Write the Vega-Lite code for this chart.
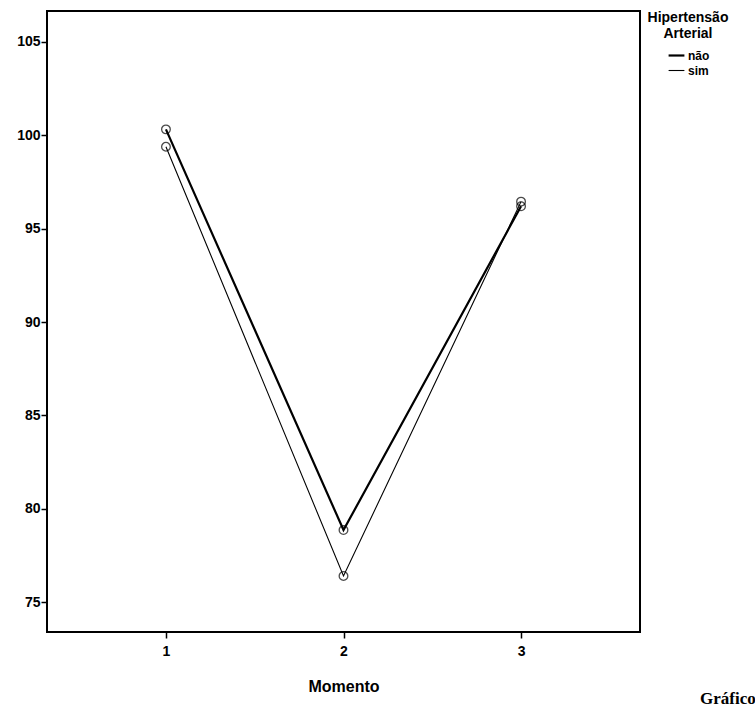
{
  "$schema": "https://vega.github.io/schema/vega-lite/v6.json",
  "width": 593,
  "height": 621,
  "autosize": {"type": "none"},
  "padding": {"left": 47, "top": 11, "right": 115, "bottom": 72},
  "background": "white",
  "title": {
    "text": "Gráfico",
    "orient": "bottom",
    "anchor": "end",
    "frame": "group",
    "align": "left",
    "baseline": "bottom",
    "dx": 60,
    "offset": 14,
    "font": "Liberation Serif",
    "fontSize": 17,
    "fontWeight": "bold",
    "color": "black"
  },
  "config": {
    "view": {"stroke": "black", "strokeWidth": 2},
    "axis": {
      "domain": false,
      "grid": false,
      "tickColor": "black",
      "tickSize": 6,
      "tickWidth": 1.5,
      "labelFont": "Liberation Sans",
      "labelFontSize": 14,
      "labelFontWeight": "bold",
      "labelColor": "black",
      "titleFont": "Liberation Sans",
      "titleFontSize": 16,
      "titleFontWeight": "bold",
      "titleColor": "black"
    },
    "legend": {
      "titleFont": "Liberation Sans",
      "titleFontSize": 14,
      "titleFontWeight": "bold",
      "titleColor": "black",
      "labelFont": "Liberation Sans",
      "labelFontSize": 12,
      "labelFontWeight": "bold",
      "labelColor": "black"
    }
  },
  "data": {
    "values": [
      {"Momento": 1, "Valor": 100.32, "Hipertensao": "não"},
      {"Momento": 2, "Valor": 78.86, "Hipertensao": "não"},
      {"Momento": 3, "Valor": 96.2, "Hipertensao": "não"},
      {"Momento": 1, "Valor": 99.39, "Hipertensao": "sim"},
      {"Momento": 2, "Valor": 76.4, "Hipertensao": "sim"},
      {"Momento": 3, "Valor": 96.45, "Hipertensao": "sim"}
    ]
  },
  "encoding": {
    "x": {
      "field": "Momento",
      "type": "quantitative",
      "scale": {"domain": [0.33, 3.67], "nice": false, "zero": false},
      "axis": {"values": [1, 2, 3], "title": "Momento", "titlePadding": 20, "labelPadding": 6}
    },
    "y": {
      "field": "Valor",
      "type": "quantitative",
      "scale": {"domain": [73.4, 106.66], "nice": false, "zero": false},
      "axis": {"values": [75, 80, 85, 90, 95, 100, 105], "title": null, "labelPadding": 1}
    }
  },
  "layer": [
    {
      "mark": {"type": "line", "color": "black"},
      "encoding": {
        "strokeWidth": {
          "field": "Hipertensao",
          "type": "ordinal",
          "scale": {"domain": ["não", "sim"], "range": [2.2, 1.1]},
          "legend": {
            "title": ["Hipertensão", "Arterial"],
            "titleAlign": "center",
            "titleAnchor": "middle",
            "orient": "right",
            "offset": 8,
            "padding": 0,
            "symbolType": "stroke",
            "symbolSize": 250,
            "symbolStrokeColor": "black",
            "labelOffset": 2,
            "rowPadding": 0
          }
        }
      }
    },
    {
      "mark": {"type": "point", "shape": "circle", "filled": false, "color": "black", "size": 75, "strokeWidth": 1.3},
      "encoding": {"detail": {"field": "Hipertensao"}}
    }
  ]
}
